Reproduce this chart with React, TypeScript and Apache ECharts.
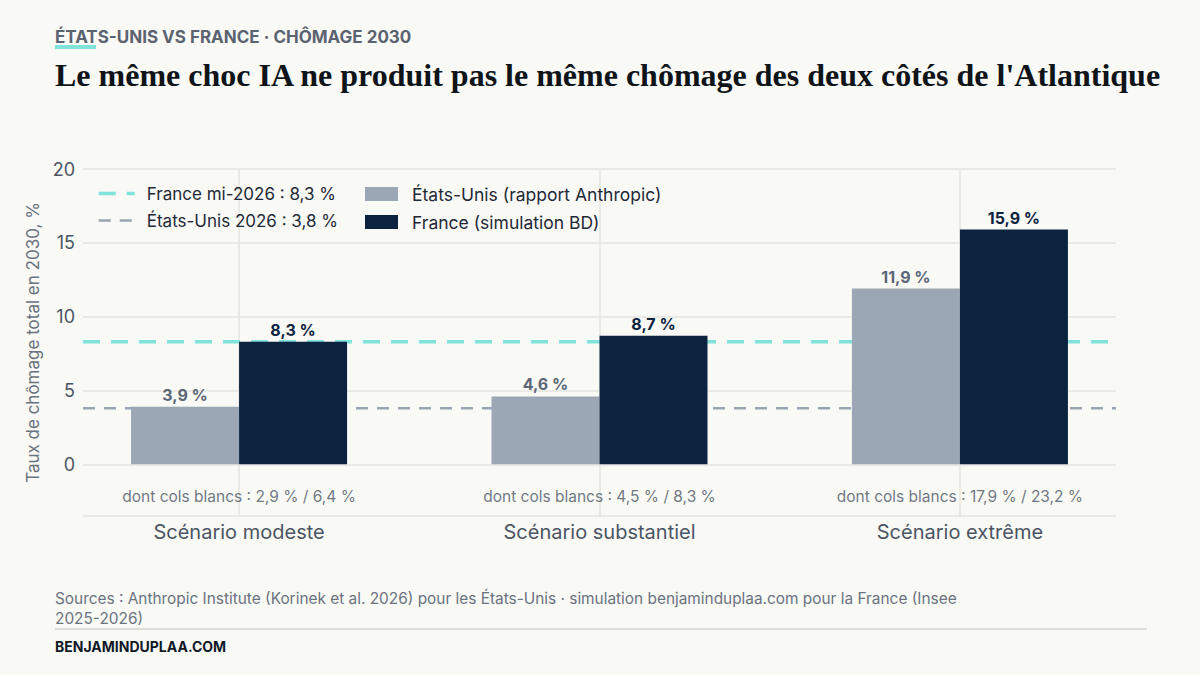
import React, { useEffect, useRef } from "react";
import * as echarts from "echarts";

// scenarios and values
const scenarios = ["Scénario modeste", "Scénario substantiel", "Scénario extrême"];
const usValues = [3.9, 4.6, 11.9];
const frValues = [8.3, 8.7, 15.9];
const usWhiteCollar = [2.9, 4.5, 17.9];
const frWhiteCollar = [6.4, 8.3, 23.2];
const frBaseline = 8.3;
const usBaseline = 3.8;

const SANS = "Inter, 'Noto Sans', sans-serif";
const SERIF = "'Liberation Serif', 'DejaVu Serif', serif";
const X_MIN = -0.433;
const X_MAX = 2.433;
const NOTE_Y = -2.2;

const CYAN = "#7fe3dc";
const SLATE = "#9aa5b4";
const frLineStyle = { color: CYAN, width: 3.5, type: [17, 11] };
const usLineStyle = { color: SLATE, width: 2.5, type: [12, 9] };

const pct = (v: number) => `${v.toFixed(1).replace(".", ",")} %`;

const frLineName = `France mi-2026 : ${pct(frBaseline)}`;
const usLineName = `États-Unis 2026 : ${pct(usBaseline)}`;
const usBarName = "États-Unis (rapport Anthropic)";
const frBarName = "France (simulation BD)";

const notes = scenarios.map(
  (_, i) => `dont cols blancs : ${pct(usWhiteCollar[i])} / ${pct(frWhiteCollar[i])}`
);

export default function App() {
  const chartRef = useRef<HTMLDivElement>(null);

  useEffect(() => {
    document.body.style.margin = "0";
    if (!chartRef.current) return;
    const chart = echarts.init(chartRef.current, undefined, { renderer: "svg" });

    chart.setOption({
      animation: false,
      backgroundColor: "#f9f9f6",
      textStyle: { fontFamily: SANS },
      grid: { left: 83, right: 84, top: 169, bottom: 159 },
      legend: [
        {
          data: [
            { name: frLineName, lineStyle: frLineStyle },
            { name: usLineName, lineStyle: usLineStyle },
          ],
          orient: "vertical",
          left: 97,
          top: 185,
          padding: 0,
          itemWidth: 36,
          itemHeight: 14,
          itemGap: 10,
          itemStyle: { color: "transparent", borderColor: "transparent", borderWidth: 0 },
          textStyle: { fontSize: 17, color: "#1f2937", fontFamily: SANS, padding: [0, 0, 0, 7] },
        },
        {
          data: [usBarName, frBarName],
          orient: "vertical",
          left: 365,
          top: 185,
          padding: 0,
          itemWidth: 33,
          itemHeight: 14,
          itemGap: 10,
          icon: "rect",
          textStyle: { fontSize: 17.5, color: "#1f2937", fontFamily: SANS, padding: [0, 0, 0, 9] },
        },
      ],
      xAxis: {
        type: "value",
        min: X_MIN,
        max: X_MAX,
        minInterval: 1,
        maxInterval: 1,
        axisLine: { show: false },
        axisTick: { show: false },
        axisLabel: {
          showMinLabel: false,
          showMaxLabel: false,
          fontSize: 20,
          color: "#4b5563",
          margin: 6,
          formatter: (v: number) => (Number.isInteger(v) ? scenarios[v] ?? "" : ""),
        },
        splitLine: {
          show: true,
          showMinLine: false,
          showMaxLine: false,
          lineStyle: { color: "#e5e5df", width: 1.5 },
        },
      },
      yAxis: {
        type: "value",
        min: -3.5,
        max: 20,
        axisLine: { show: false },
        axisTick: { show: false },
        axisLabel: {
          fontSize: 18,
          color: "#4b5563",
          margin: 8,
          formatter: (v: number) => (v < 0 ? "" : String(v)),
        },
        splitLine: { lineStyle: { color: "#e5e5df", width: 1.5 } },
        name: "Taux de chômage total en 2030, %",
        nameLocation: "middle",
        nameGap: 40,
        nameTextStyle: { fontSize: 17, color: "#6b7280", fontFamily: SANS },
      },
      series: [
        {
          name: frLineName,
          type: "line",
          data: [
            [X_MIN, frBaseline],
            [X_MAX, frBaseline],
          ],
          symbol: "none",
          silent: true,
          z: 1,
          itemStyle: { color: CYAN },
          lineStyle: frLineStyle,
        },
        {
          name: usLineName,
          type: "line",
          data: [
            [X_MIN, usBaseline],
            [X_MAX, usBaseline],
          ],
          symbol: "none",
          silent: true,
          z: 1,
          itemStyle: { color: SLATE },
          lineStyle: usLineStyle,
        },
        {
          name: usBarName,
          type: "bar",
          data: usValues.map((v, i) => [i, v]),
          barWidth: 108,
          barGap: "0%",
          z: 2,
          itemStyle: { color: "#9ba7b5" },
          label: {
            show: true,
            position: "top",
            distance: 4,
            fontSize: 16,
            fontWeight: 700,
            color: "#5b6676",
            fontFamily: SANS,
            formatter: (p: any) => pct(p.value[1]),
          },
        },
        {
          name: frBarName,
          type: "bar",
          data: frValues.map((v, i) => [i, v]),
          barWidth: 108,
          barGap: "0%",
          z: 2,
          itemStyle: { color: "#0c2340" },
          label: {
            show: true,
            position: "top",
            distance: 4,
            fontSize: 16,
            fontWeight: 700,
            color: "#0c2340",
            fontFamily: SANS,
            formatter: (p: any) => pct(p.value[1]),
          },
        },
        {
          name: "notes",
          type: "scatter",
          data: scenarios.map((_, i) => [i, NOTE_Y]),
          symbolSize: 0,
          silent: true,
          z: 3,
          label: {
            show: true,
            position: "inside",
            fontSize: 15.5,
            color: "#4b5563",
            fontFamily: SANS,
            formatter: (p: any) => notes[p.dataIndex],
          },
        },
      ],
      graphic: [
        {
          type: "text",
          left: 55,
          top: 28,
          style: {
            text: "ÉTATS-UNIS VS FRANCE · CHÔMAGE 2030",
            font: `700 17px ${SANS}`,
            fill: "#5b6270",
          },
        },
        {
          type: "rect",
          shape: { x: 55, y: 45, width: 41, height: 4 },
          style: { fill: CYAN },
        },
        {
          type: "text",
          left: 55,
          top: 59,
          style: {
            text: "Le même choc IA ne produit pas le même chômage des deux côtés de l'Atlantique",
            font: `700 32px ${SERIF}`,
            fill: "#0f1419",
          },
        },
        {
          type: "text",
          left: 55,
          top: 588,
          style: {
            text:
              "Sources : Anthropic Institute (Korinek et al. 2026) pour les États-Unis · simulation benjaminduplaa.com pour la France (Insee\n2025-2026)",
            font: `15.4px ${SANS}`,
            lineHeight: 20,
            fill: "#6b7280",
          },
        },
        {
          type: "line",
          shape: { x1: 55, y1: 629, x2: 1147, y2: 629 },
          style: { stroke: "#deded8", lineWidth: 2 },
        },
        {
          type: "text",
          left: 55,
          top: 639,
          style: {
            text: "BENJAMINDUPLAA.COM",
            font: `700 14px ${SANS}`,
            fill: "#111827",
          },
        },
      ],
    });

    return () => {
      chart.dispose();
    };
  }, []);

  return <div ref={chartRef} style={{ width: 1200, height: 675 }} />;
}
